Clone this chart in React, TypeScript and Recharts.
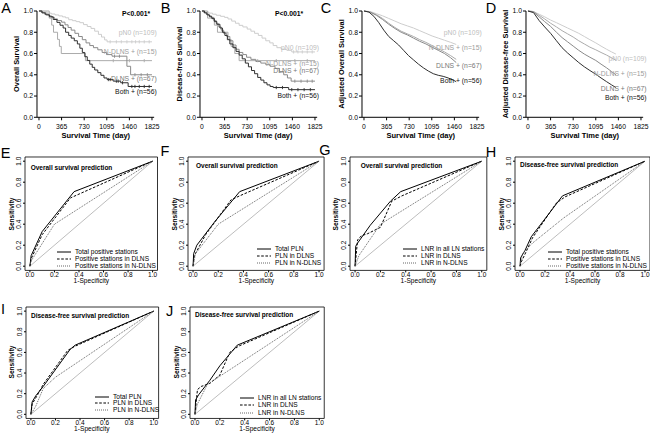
import React from 'react';
import { LineChart, Line, XAxis, YAxis, ReferenceArea, ReferenceLine } from 'recharts';

const FONT = 'Arial, "Liberation Sans", sans-serif';

// Kaplan-Meier curves, [day, survival]
const osPN0 = [[0, 1], [60, 0.99], [130, 0.98], [200, 0.972], [260, 0.963], [320, 0.954], [380, 0.945], [430, 0.936], [480, 0.918], [540, 0.909], [600, 0.9], [660, 0.89], [720, 0.872], [780, 0.854], [840, 0.836], [900, 0.81], [960, 0.78], [1010, 0.755], [1060, 0.728], [1100, 0.71], [1825, 0.71]];
const osNDLNS = [[0, 1], [165, 0.933], [205, 0.867], [235, 0.8], [300, 0.733], [330, 0.667], [360, 0.6], [750, 0.533], [1825, 0.533]];
const osDLNS = [[0, 1], [40, 0.985], [90, 0.97], [150, 0.955], [200, 0.94], [250, 0.925], [300, 0.91], [365, 0.895], [420, 0.87], [470, 0.845], [520, 0.82], [580, 0.79], [640, 0.76], [700, 0.73], [760, 0.7], [820, 0.675], [880, 0.655], [950, 0.635], [1020, 0.61], [1090, 0.59], [1180, 0.575], [1420, 0.48], [1480, 0.4], [1825, 0.4]];
const osBoth = [[0, 1], [50, 0.982], [110, 0.964], [170, 0.946], [230, 0.92], [290, 0.893], [340, 0.866], [390, 0.84], [430, 0.8], [480, 0.77], [520, 0.745], [570, 0.72], [620, 0.69], [660, 0.65], [700, 0.61], [740, 0.57], [780, 0.535], [820, 0.5], [860, 0.47], [900, 0.445], [950, 0.42], [1000, 0.395], [1050, 0.37], [1100, 0.355], [1200, 0.34], [1320, 0.325], [1440, 0.29], [1825, 0.29]];

const dfsPN0 = [[0, 1], [50, 0.99], [110, 0.98], [170, 0.97], [230, 0.96], [300, 0.95], [365, 0.94], [420, 0.925], [480, 0.905], [540, 0.885], [600, 0.865], [660, 0.85], [730, 0.83], [790, 0.81], [850, 0.79], [910, 0.77], [970, 0.745], [1030, 0.72], [1095, 0.7], [1150, 0.675], [1210, 0.655], [1280, 0.64], [1370, 0.63], [1450, 0.615], [1825, 0.615]];
const dfsNDLNS = [[0, 1], [90, 0.933], [200, 0.867], [250, 0.8], [420, 0.733], [470, 0.667], [530, 0.6], [600, 0.533], [1825, 0.533]];
const dfsDLNS = [[0, 1], [30, 0.985], [70, 0.97], [110, 0.955], [150, 0.94], [190, 0.91], [230, 0.88], [270, 0.85], [310, 0.82], [350, 0.79], [400, 0.76], [450, 0.72], [500, 0.68], [550, 0.64], [600, 0.61], [660, 0.59], [720, 0.565], [790, 0.545], [870, 0.525], [950, 0.51], [1030, 0.495], [1100, 0.48], [1180, 0.46], [1250, 0.43], [1320, 0.4], [1380, 0.37], [1440, 0.34], [1825, 0.34]];
const dfsBoth = [[0, 1], [40, 0.982], [80, 0.964], [120, 0.946], [160, 0.928], [200, 0.9], [240, 0.875], [290, 0.84], [330, 0.8], [370, 0.77], [410, 0.73], [450, 0.69], [500, 0.655], [550, 0.62], [600, 0.585], [650, 0.55], [700, 0.51], [750, 0.475], [800, 0.44], [850, 0.41], [900, 0.375], [950, 0.35], [1000, 0.325], [1050, 0.305], [1100, 0.29], [1150, 0.28], [1400, 0.26], [1825, 0.26]];

// censored observations (days)
const osCensor = [
  [1150, 1250, 1330, 1420, 1500, 1560, 1620, 1700, 1780],
  [1200, 1460, 1700],
  [1220, 1300, 1550, 1650, 1750],
  [1120, 1150, 1250, 1280, 1350, 1500, 1550, 1620, 1700, 1780],
];
const dfsCensor = [
  [1480, 1550, 1620, 1700, 1780],
  [900, 1200, 1500, 1700],
  [1500, 1600, 1700, 1780],
  [1200, 1300, 1450, 1550, 1650, 1750],
];

// adjusted curves
const adjOsPN0 = [[0, 1], [100, 0.995], [200, 0.975], [300, 0.955], [400, 0.93], [500, 0.905], [600, 0.88], [700, 0.86], [800, 0.84], [900, 0.815], [1000, 0.79], [1100, 0.765], [1200, 0.745], [1300, 0.725], [1400, 0.705], [1490, 0.685]];
const adjOsNDLNS = [[0, 1], [100, 0.99], [200, 0.965], [300, 0.93], [400, 0.885], [500, 0.845], [600, 0.81], [700, 0.785], [800, 0.76], [900, 0.73], [1000, 0.705], [1100, 0.675], [1200, 0.645], [1300, 0.615], [1400, 0.58], [1490, 0.545]];
const adjOsDLNS = [[0, 1], [100, 0.99], [200, 0.96], [300, 0.92], [400, 0.875], [500, 0.835], [600, 0.8], [700, 0.775], [800, 0.745], [900, 0.715], [1000, 0.69], [1100, 0.66], [1200, 0.63], [1300, 0.6], [1400, 0.56], [1490, 0.515]];
const adjOsBoth = [[0, 1], [80, 0.99], [160, 0.95], [240, 0.89], [320, 0.82], [400, 0.76], [480, 0.72], [560, 0.68], [640, 0.63], [720, 0.58], [800, 0.54], [880, 0.5], [960, 0.465], [1040, 0.435], [1120, 0.41], [1200, 0.395], [1280, 0.385], [1360, 0.37], [1440, 0.35], [1490, 0.335]];

const adjDfsPN0 = [[0, 1], [90, 0.995], [180, 0.97], [270, 0.945], [365, 0.915], [460, 0.89], [550, 0.865], [640, 0.84], [730, 0.815], [820, 0.79], [910, 0.76], [1000, 0.73], [1095, 0.7], [1180, 0.67], [1270, 0.64], [1350, 0.615], [1420, 0.595]];
const adjDfsNDLNS = [[0, 1], [90, 0.995], [180, 0.96], [270, 0.925], [365, 0.885], [460, 0.85], [550, 0.815], [640, 0.785], [730, 0.755], [820, 0.72], [910, 0.69], [1000, 0.66], [1095, 0.635], [1180, 0.61], [1270, 0.585], [1350, 0.56], [1420, 0.535]];
const adjDfsDLNS = [[0, 1], [90, 0.99], [180, 0.945], [270, 0.9], [365, 0.855], [460, 0.8], [550, 0.75], [640, 0.71], [730, 0.67], [820, 0.63], [910, 0.595], [1000, 0.565], [1095, 0.535], [1180, 0.5], [1270, 0.465], [1350, 0.43], [1420, 0.4]];
const adjDfsBoth = [[0, 1], [90, 0.985], [180, 0.91], [270, 0.85], [365, 0.79], [460, 0.72], [550, 0.655], [640, 0.605], [730, 0.56], [820, 0.515], [910, 0.475], [1000, 0.44], [1095, 0.405], [1180, 0.37], [1270, 0.335], [1350, 0.305], [1420, 0.28]];

const kmDays = [0, 365, 730, 1095, 1460, 1825];
const survTicks = [0, 0.2, 0.4, 0.6, 0.8, 1];
const groups = ['pN0 (n=109)', 'N-DLNS + (n=15)', 'DLNS + (n=67)', 'Both + (n=56)'];

// ROC curves, [1-specificity, sensitivity]
const osStTotal = [[0, 0], [0.01, 0.1], [0.1, 0.33], [0.36, 0.71], [1, 1]];
const osStDLNS = [[0, 0], [0.01, 0.07], [0.1, 0.3], [0.33, 0.65], [1, 1]];
const osStNDLNS = [[0, 0], [0.01, 0.05], [0.2, 0.4], [1, 1]];
const osPlnTotal = [[0, 0], [0.005, 0.12], [0.03, 0.2], [0.17, 0.42], [0.37, 0.71], [1, 1]];
const osPlnDLNS = [[0, 0], [0.01, 0.1], [0.1, 0.3], [0.3, 0.63], [0.37, 0.67], [1, 1]];
const osPlnNDLNS = [[0, 0], [0.02, 0.12], [0.2, 0.4], [1, 1]];
const osLnrAll = [[0, 0], [0.005, 0.19], [0.02, 0.22], [0.12, 0.39], [0.28, 0.62], [0.36, 0.71], [1, 1]];
const osLnrDLNS = [[0, 0], [0.02, 0.25], [0.05, 0.29], [0.1, 0.31], [0.2, 0.37], [0.29, 0.62], [0.37, 0.67], [1, 1]];
const osLnrNDLNS = [[0, 0], [0.03, 0.1], [0.2, 0.4], [1, 1]];
const dfsStTotal = [[0, 0], [0.005, 0.08], [0.04, 0.15], [0.09, 0.28], [0.34, 0.67], [1, 1]];
const dfsStDLNS = [[0, 0], [0.01, 0.04], [0.05, 0.14], [0.1, 0.27], [0.29, 0.6], [0.36, 0.66], [1, 1]];
const dfsStNDLNS = [[0, 0], [0.02, 0.12], [0.1, 0.22], [0.35, 0.46], [1, 1]];
const dfsPlnTotal = [[0, 0], [0.01, 0.12], [0.04, 0.18], [0.1, 0.27], [0.32, 0.63], [0.36, 0.67], [1, 1]];
const dfsPlnDLNS = [[0, 0], [0.01, 0.1], [0.06, 0.2], [0.1, 0.29], [0.3, 0.62], [0.36, 0.66], [1, 1]];
const dfsPlnNDLNS = [[0, 0], [0.04, 0.08], [0.1, 0.25], [0.2, 0.36], [1, 1]];
const dfsLnrAll = [[0, 0], [0.005, 0.14], [0.03, 0.19], [0.12, 0.33], [0.2, 0.47], [0.34, 0.67], [1, 1]];
const dfsLnrDLNS = [[0, 0], [0.02, 0.24], [0.05, 0.27], [0.12, 0.3], [0.2, 0.38], [0.28, 0.6], [0.35, 0.66], [1, 1]];
const dfsLnrNDLNS = [[0, 0], [0.02, 0.1], [0.1, 0.29], [1, 1]];

const rocTicks = [0, 0.2, 0.4, 0.6, 0.8, 1];
const stationNames = ['Total positive stations', 'Positive stations in DLNS', 'Positive stations in N-DLNS'];
const plnNames = ['Total PLN', 'PLN in DLNS', 'PLN in N-DLNS'];
const lnrNames = ['LNR in all LN stations', 'LNR in DLNS', 'LNR in N-DLNS'];

const LINE_COLORS = ['#cdcdcd', '#ababab', '#8a8a8a', '#2e2e2e'];
const LABEL_COLORS = ['#bdbdbd', '#9c9c9c', '#777777', '#111111'];
const ROC_STYLES = [
  { stroke: '#000', dash: undefined, w: 1 },
  { stroke: '#000', dash: '2.6 1.6', w: 1 },
  { stroke: '#666', dash: '1 1', w: 1 },
];

const toPts = (a: number[][]) => a.map(([x, y]) => ({ x, y }));

// survival value of a step curve at day t
const stepAt = (curve: number[][], t: number) => {
  let v = curve[0][1];
  for (const [x, y] of curve) if (x <= t) v = y;
  return v;
};

const Txt = ({ x, y, children, size = 6.8, bold = false, color = '#000', align = 'center', rotate = false }: any) => {
  const tx = align === 'right' ? '-100%' : align === 'left' ? '0' : '-50%';
  return (
    <div
      style={{
        position: 'absolute', left: x, top: y,
        transform: `translate(${tx},-50%)${rotate ? ' rotate(-90deg)' : ''}`,
        fontSize: size, fontWeight: bold ? 'bold' : 'normal', color,
        whiteSpace: 'nowrap', lineHeight: 1, fontFamily: FONT,
      }}
    >
      {children}
    </div>
  );
};

const Letter = ({ x, y, c }: any) => <Txt x={x} y={y} size={14.5}>{c}</Txt>;

function KmPanel({ x0, curves, censors, step, yTitle, labelRight, labelYs, pText }: any) {
  const k = 113 / 1825;
  const plotLeft = x0 - 32 * k;
  const plotW = (1860 + 32) * k;
  const plotTop = 11, plotH = 106.3;
  const YW = 15, MT = 6, MR = 8, XH = 14;
  return (
    <>
      <div style={{ position: 'absolute', left: plotLeft - YW, top: plotTop - MT }}>
        <LineChart width={YW + plotW + MR} height={MT + plotH + XH} margin={{ top: MT, right: MR, bottom: 0, left: 0 }}>
          <XAxis dataKey="x" type="number" domain={[-32, 1860]} ticks={kmDays} interval={0} height={XH}
            tickSize={3} tickMargin={4} stroke="#000" tick={{ fontSize: 6.8, fill: '#000', fontFamily: FONT }} />
          <YAxis type="number" domain={[0, 1]} ticks={survTicks} interval={0} width={YW}
            tickSize={3} tickMargin={1} stroke="#000" tickFormatter={(v: number) => v.toFixed(1)}
            tick={{ fontSize: 6.8, fill: '#000', fontFamily: FONT }} />
          {curves.map((c: number[][], i: number) => (
            <Line key={i} data={toPts(c)} dataKey="y" type={step ? 'stepAfter' : 'linear'} stroke={LINE_COLORS[i]}
              strokeWidth={1} dot={false} isAnimationActive={false} />
          ))}
          {censors && censors.map((cs: number[], i: number) => (
            <Line key={'c' + i} data={cs.map((t) => ({ x: t, y: stepAt(curves[i], t) }))} dataKey="y"
              stroke="none" isAnimationActive={false}
              dot={(p: any) => (
                <line key={p.index} x1={p.cx} x2={p.cx} y1={p.cy - 1.6} y2={p.cy + 1.6}
                  stroke={LINE_COLORS[i]} strokeWidth={0.9} />
              )} />
          ))}
        </LineChart>
      </div>
      <Txt x={plotLeft - 20} y={plotTop + plotH / 2} size={7.4} bold rotate>{yTitle}</Txt>
      <Txt x={x0 + 56.5} y={136} size={7.5} bold>Survival Time (day)</Txt>
      {pText && <Txt x={pText} y={14} size={6.8} bold align="left">P&lt;0.001*</Txt>}
      {groups.map((g, i) => (
        <Txt key={g} x={labelRight} y={labelYs[i]} size={6.8} color={LABEL_COLORS[i]} align="right">{g}</Txt>
      ))}
    </>
  );
}

const RocYTick = (p: any) => (
  <text x={p.x} y={p.y} transform={`rotate(-90 ${p.x} ${p.y})`} textAnchor="middle" fontSize={6.5}
    fill="#000" fontFamily={FONT}>{Number(p.payload.value).toFixed(1)}</text>
);

function RocPanel({ x0, x1, y1, y0, curves, names, title, tx, ty, lx, ly, gap }: any) {
  const w = x1 - x0, h = y0 - y1;
  const pl = x0 - 0.04 * w, pt = y1 - 0.04 * h, pw = 1.08 * w, ph = 1.08 * h;
  const YW = 14, MT = 2, MR = 3, XH = 10;
  return (
    <>
      <div style={{ position: 'absolute', left: pl - YW, top: pt - MT }}>
        <LineChart width={YW + pw + MR} height={MT + ph + XH} margin={{ top: MT, right: MR, bottom: 0, left: 0 }}>
          <XAxis dataKey="x" type="number" domain={[-0.04, 1.04]} ticks={rocTicks} interval={0} height={XH}
            axisLine={false} tickSize={2} tickMargin={0} stroke="#000" tickFormatter={(v: number) => v.toFixed(1)}
            tick={{ fontSize: 6.5, fill: '#000', fontFamily: FONT }} />
          <YAxis type="number" domain={[-0.04, 1.04]} ticks={rocTicks} interval={0} width={YW}
            axisLine={false} tickSize={2} tickMargin={2} stroke="#000" tick={(p: any) => <RocYTick {...p} />} />
          <ReferenceArea x1={-0.04} x2={1.04} y1={-0.04} y2={1.04} fill="none" fillOpacity={0} stroke="#000" strokeWidth={0.8} />
          <ReferenceLine segment={[{ x: 0, y: 0 }, { x: 1, y: 1 }]} stroke="#bdbdbd" strokeWidth={1} />
          {curves.map((c: number[][], i: number) => (
            <Line key={i} data={toPts(c)} dataKey="y" type="linear" stroke={ROC_STYLES[i].stroke}
              strokeDasharray={ROC_STYLES[i].dash} strokeWidth={ROC_STYLES[i].w} dot={false} isAnimationActive={false} />
          ))}
        </LineChart>
      </div>
      <Txt x={x0 + tx} y={y1 + ty} size={6.5} bold align="left">{title}</Txt>
      <Txt x={pl - 13.5} y={(y0 + y1) / 2} size={6.6} bold rotate>Sensitivity</Txt>
      <Txt x={(x0 + x1) / 2} y={y0 + 14.7} size={6.6}>1-Specificity</Txt>
      {names.map((n: string, i: number) => (
        <React.Fragment key={n}>
          <svg style={{ position: 'absolute', left: lx, top: ly + i * gap - 2 }} width={15} height={4}>
            <line x1={0} y1={2} x2={14} y2={2} stroke={ROC_STYLES[i].stroke} strokeWidth={1}
              strokeDasharray={ROC_STYLES[i].dash} />
          </svg>
          <Txt x={lx + 18} y={ly + i * gap} size={6.6} align="left">{n}</Txt>
        </React.Fragment>
      ))}
    </>
  );
}

export default function App() {
  return (
    <div style={{ position: 'relative', width: 650, height: 433, background: '#fff', overflow: 'hidden', fontFamily: FONT }}>
      <style>{'body{margin:0}'}</style>

      <Letter x={6} y={8} c="A" />
      <KmPanel x0={39.3} step curves={[osPN0, osNDLNS, osDLNS, osBoth]} censors={osCensor} yTitle="Overall Survival"
        labelRight={156.7} labelYs={[33.3, 52.3, 79, 91.7]} pText={122} />
      <Letter x={165.5} y={8} c="B" />
      <KmPanel x0={201.7} step curves={[dfsPN0, dfsNDLNS, dfsDLNS, dfsBoth]} censors={dfsCensor} yTitle="Disease-free Survival"
        labelRight={319} labelYs={[47.7, 64, 70.7, 96]} pText={275} />
      <Letter x={326} y={8} c="C" />
      <KmPanel x0={364.3} curves={[adjOsPN0, adjOsNDLNS, adjOsDLNS, adjOsBoth]} yTitle="Adjusted Overall Survival"
        labelRight={481.7} labelYs={[33.3, 48.3, 66, 81]} />
      <Letter x={491} y={7.5} c="D" />
      <KmPanel x0={528.3} curves={[adjDfsPN0, adjDfsNDLNS, adjDfsDLNS, adjDfsBoth]} yTitle="Adjusted Disease-free Survival"
        labelRight={646.5} labelYs={[59.3, 74, 89.3, 98.3]} />

      <Letter x={5.5} y={152.5} c="E" />
      <RocPanel x0={30} x1={152.7} y1={161.5} y0={266.5} curves={[osStTotal, osStDLNS, osStNDLNS]} names={stationNames}
        title="Overall survival prediction" tx={0.7} ty={6} lx={57} ly={252.3} gap={6.7} />
      <Letter x={165} y={151} c="F" />
      <RocPanel x0={193.3} x1={319.3} y1={161.5} y0={266.5} curves={[osPlnTotal, osPlnDLNS, osPlnNDLNS]} names={plnNames}
        title="Overall survival prediction" tx={2.7} ty={4.2} lx={257} ly={249} gap={7.2} />
      <Letter x={325} y={150} c="G" />
      <RocPanel x0={355} x1={481.7} y1={161.5} y0={266.5} curves={[osLnrAll, osLnrDLNS, osLnrNDLNS]} names={lnrNames}
        title="Overall survival prediction" tx={5.7} ty={4.2} lx={403} ly={249} gap={7.2} />
      <Letter x={491} y={152} c="H" />
      <RocPanel x0={520} x1={645} y1={161.5} y0={266.5} curves={[dfsStTotal, dfsStDLNS, dfsStNDLNS]} names={stationNames}
        title="Disease-free survival prediction" tx={0} ty={3.5} lx={548} ly={252} gap={6.8} />

      <Letter x={3} y={309} c="I" />
      <RocPanel x0={30.5} x1={153.3} y1={310.8} y0={414} curves={[dfsPlnTotal, dfsPlnDLNS, dfsPlnNDLNS]} names={plnNames}
        title="Disease-free survival prediction" tx={0.5} ty={5.2} lx={95} ly={396.7} gap={6.7} />
      <Letter x={169.5} y={311} c="J" />
      <RocPanel x0={195} x1={319.3} y1={310.8} y0={414} curves={[dfsLnrAll, dfsLnrDLNS, dfsLnrNDLNS]} names={lnrNames}
        title="Disease-free survival prediction" tx={0} ty={4.2} lx={240} ly={398} gap={7.3} />
    </div>
  );
}
